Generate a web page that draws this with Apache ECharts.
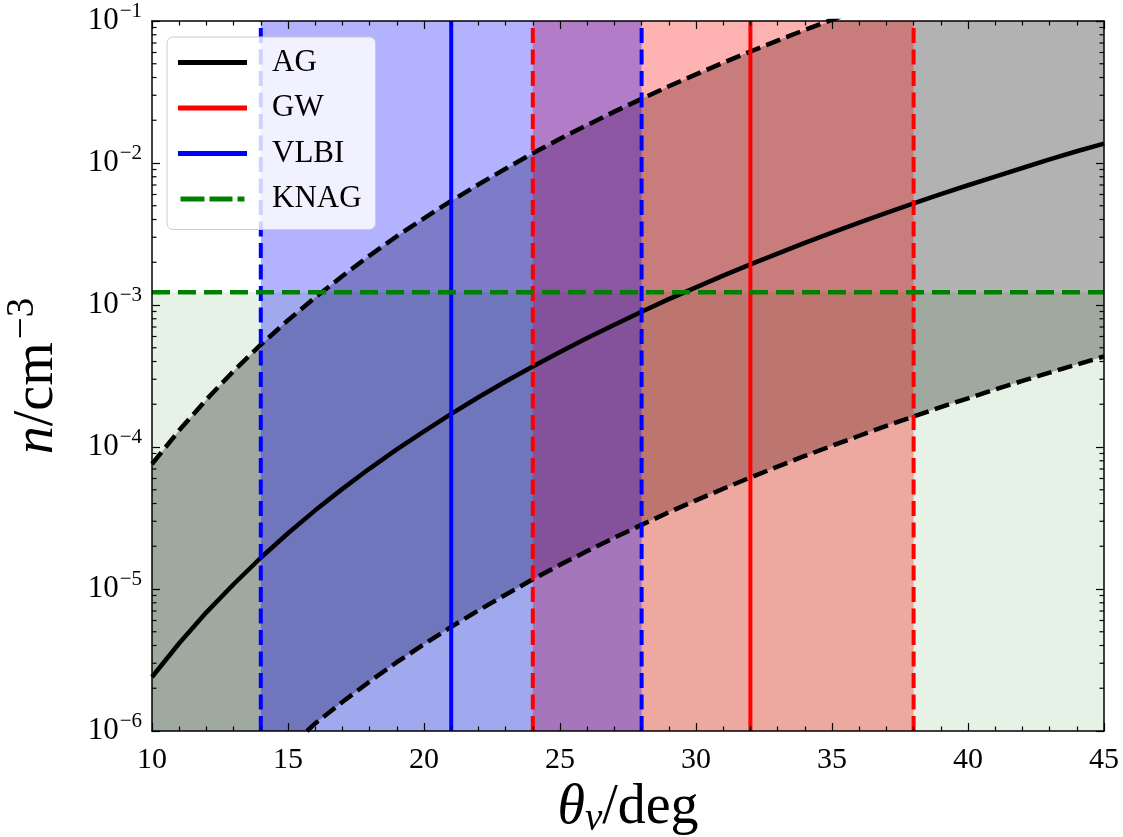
<!DOCTYPE html>
<html><head><meta charset="utf-8">
<script src="https://cdn.jsdelivr.net/npm/echarts@6/dist/echarts.min.js"></script>
<style>html,body{margin:0;padding:0;background:#fff}#c{width:1123px;height:837px}</style>
</head><body><div id="c"></div>
<script>
// ---- data (one reading per degree) ----
const thetaMid = [10, 11, 12, 13, 14, 15, 16, 17, 18, 19, 20, 21, 22, 23, 24, 25, 26, 27, 28, 29, 30, 31, 32, 33, 34, 35, 36, 37, 38, 39, 40, 41, 42, 43, 44, 45];
const nMid     = [2.40e-6, 4.15e-6, 6.85e-6, 1.08e-5, 1.66e-5, 2.47e-5, 3.58e-5, 5.07e-5, 7.05e-5, 9.63e-5, 1.29e-4, 1.71e-4, 2.24e-4, 2.89e-4, 3.69e-4, 4.67e-4, 5.85e-4, 7.27e-4, 8.96e-4, 1.10e-3, 1.33e-3, 1.61e-3, 1.93e-3, 2.30e-3, 2.74e-3, 3.23e-3, 3.80e-3, 4.45e-3, 5.19e-3, 6.03e-3, 6.97e-3, 8.03e-3, 9.22e-3, 1.06e-2, 1.21e-2, 1.37e-2];
const thetaUp  = [10, 11, 12, 13, 14, 15, 16, 17, 18, 19, 20, 21, 22, 23, 24, 25, 26, 27, 28, 29, 30, 31, 32, 33, 34, 35, 36];
const nUp      = [7.59e-5, 1.31e-4, 2.16e-4, 3.43e-4, 5.25e-4, 7.82e-4, 1.13e-3, 1.60e-3, 2.23e-3, 3.05e-3, 4.08e-3, 5.41e-3, 7.06e-3, 9.12e-3, 1.17e-2, 1.48e-2, 1.85e-2, 2.30e-2, 2.83e-2, 3.47e-2, 4.21e-2, 5.08e-2, 6.10e-2, 7.28e-2, 8.65e-2, 1.02e-1, 1.20e-1];
const thetaLow = [15.7, 16, 17, 18, 19, 20, 21, 22, 23, 24, 25, 26, 27, 28, 29, 30, 31, 32, 33, 34, 35, 36, 37, 38, 39, 40, 41, 42, 43, 44, 45];
const nLow     = [1.00e-6, 1.13e-6, 1.60e-6, 2.23e-6, 3.05e-6, 4.08e-6, 5.41e-6, 7.06e-6, 9.12e-6, 1.17e-5, 1.48e-5, 1.85e-5, 2.30e-5, 2.83e-5, 3.47e-5, 4.21e-5, 5.08e-5, 6.10e-5, 7.28e-5, 8.65e-5, 1.02e-4, 1.20e-4, 1.41e-4, 1.64e-4, 1.91e-4, 2.20e-4, 2.54e-4, 2.92e-4, 3.34e-4, 3.81e-4, 4.34e-4];
const gwCenter = 32, gwRange = [24, 38];
const vlbiCenter = 21, vlbiRange = [14, 28];
const knagN = 1.23e-3;
const xMin = 10, xMax = 45, xStep = 5;
const yMin = 1e-6, yMax = 1e-1;
const legendNames = ['AG', 'GW', 'VLBI', 'KNAG'];
const xTitle = '{t|θ}{v|v}{d|/deg}';
const yTitle = '{n|n}{d|/cm}{s|−3}';

// minor tick positions for the log axis (2..9 x 10^k)
const yMinorTicks = [];
for (let e = -6; e < -1; e++) for (let m = 2; m <= 9; m++) yMinorTicks.push(Number((m * Math.pow(10, e)).toPrecision(3)));

const FONT = '"Liberation Serif", "DejaVu Serif", serif';

function rectRender(color) {
  return function (params, api) {
    const p0 = api.coord([api.value(0), api.value(1)]);
    const p1 = api.coord([api.value(2), api.value(3)]);
    return { type: 'rect', shape: { x: Math.min(p0[0], p1[0]), y: Math.min(p0[1], p1[1]), width: Math.abs(p1[0] - p0[0]), height: Math.abs(p1[1] - p0[1]) }, style: { fill: color } };
  };
}
function bandRender(params, api) {
  const pts = [];
  for (let i = 0; i < thetaUp.length; i++) pts.push(api.coord([thetaUp[i], nUp[i]]));
  pts.push(api.coord([xMax, yMax]));
  for (let i = thetaLow.length - 1; i >= 0; i--) pts.push(api.coord([thetaLow[i], nLow[i]]));
  pts.push(api.coord([xMin, yMin]));
  const cs = params.coordSys;
  return { type: 'polygon', shape: { points: echarts.graphic.clipPointsByRect(pts, { x: cs.x, y: cs.y, width: cs.width, height: cs.height }) }, style: { fill: 'rgba(0,0,0,0.3)' } };
}
function minorTickRender(params, api) {
  const v = api.value(1);
  const l = api.coord([xMin, v]);
  const r = api.coord([xMax, v]);
  const st = { stroke: '#000', lineWidth: 1.2 };
  return { type: 'group', children: [
    { type: 'line', shape: { x1: l[0], y1: l[1], x2: l[0] + 4.5, y2: l[1] }, style: st },
    { type: 'line', shape: { x1: r[0] - 4.5, y1: r[1], x2: r[0], y2: r[1] }, style: st }
  ] };
}
const zip = (a, b) => a.map((x, i) => [x, b[i]]);
const vline = (x) => [[x, yMin], [x, yMax]];

const axisCommon = {
  axisLine: { show: true, onZero: false, lineStyle: { color: '#000', width: 1.5 } },
  axisTick: { show: true, inside: true, length: 8, lineStyle: { color: '#000', width: 1.2 } },
  splitLine: { show: false },
  z: 50
};
const supRich = {
  b: { fontFamily: FONT, fontSize: 31, color: '#000' },
  s: { fontFamily: FONT, fontSize: 21, color: '#000', padding: [0, 0, 20, 1] }
};
const dashIcon = 'path://M0,0h24v5h-24z M29,0h23v5h-23z M57,0h7v5h-7z';

const option = {
  animation: false,
  backgroundColor: '#fff',
  grid: { left: 152, top: 21, width: 952, height: 710, containLabel: false, outerBoundsMode: 'none' },
  legend: {
    data: [
      { name: 'AG', icon: 'rect' },
      { name: 'GW', icon: 'rect' },
      { name: 'VLBI', icon: 'rect' },
      { name: 'KNAG', icon: dashIcon }
    ],
    orient: 'vertical', left: 167, top: 37,
    padding: [10, 14, 15, 11], itemGap: 14.5, itemWidth: 69, itemHeight: 5,
    backgroundColor: 'rgba(255,255,255,0.82)', borderColor: '#cccccc', borderWidth: 1, borderRadius: 6,
    textStyle: { fontFamily: FONT, fontSize: 31, color: '#000', lineHeight: 30, padding: [0, 0, 0, 20] },
    z: 100
  },
  xAxis: [
    Object.assign({}, axisCommon, {
      type: 'value', min: xMin, max: xMax, interval: xStep, position: 'bottom',
      minorTick: { show: true, splitNumber: 5, length: 4.5, lineStyle: { color: '#000', width: 1.2 } },
      axisLabel: { fontFamily: FONT, fontSize: 30, color: '#000', margin: 14 },
      name: xTitle, nameLocation: 'middle', nameGap: 40,
      nameTextStyle: { rich: {
        t: { fontFamily: FONT, fontStyle: 'italic', fontSize: 56, color: '#000' },
        v: { fontFamily: FONT, fontStyle: 'italic', fontSize: 39, color: '#000', padding: [24, 0, 0, 0] },
        d: { fontFamily: FONT, fontSize: 56, color: '#000' }
      } }
    }),
    Object.assign({}, axisCommon, {
      type: 'value', min: xMin, max: xMax, interval: xStep, position: 'top',
      minorTick: { show: true, splitNumber: 5, length: 4.5, lineStyle: { color: '#000', width: 1.2 } },
      axisLabel: { show: false }
    })
  ],
  yAxis: [
    Object.assign({}, axisCommon, {
      type: 'log', logBase: 10, min: yMin, max: yMax, position: 'left',
      axisLabel: { margin: 10, formatter: v => '{b|10}{s|−' + (-Math.round(Math.log10(v))) + '}', rich: supRich },
      name: yTitle, nameLocation: 'middle', nameRotate: 90, nameGap: 80,
      nameTextStyle: { rich: {
        n: { fontFamily: FONT, fontStyle: 'italic', fontSize: 56, color: '#000' },
        d: { fontFamily: FONT, fontSize: 56, color: '#000' },
        s: { fontFamily: FONT, fontSize: 39, color: '#000', padding: [0, 0, 30, 3] }
      } }
    }),
    Object.assign({}, axisCommon, {
      type: 'log', logBase: 10, min: yMin, max: yMax, position: 'right',
      axisLabel: { show: false }
    })
  ],
  series: [
    { name: 'KNAG region', type: 'custom', z: 1, renderItem: rectRender('rgba(0,128,0,0.1)'),
      encode: { x: [0, 2], y: [1, 3] }, data: [[xMin, yMin, xMax, knagN]] },
    { name: 'AG band', type: 'custom', z: 2, renderItem: bandRender, data: [[thetaMid[0], nMid[0]]] },
    { name: 'GW band', type: 'custom', z: 3, renderItem: rectRender('rgba(255,0,0,0.3)'),
      encode: { x: [0, 2], y: [1, 3] }, data: [[gwRange[0], yMin, gwRange[1], yMax]] },
    { name: 'VLBI band', type: 'custom', z: 4, renderItem: rectRender('rgba(0,0,255,0.3)'),
      encode: { x: [0, 2], y: [1, 3] }, data: [[vlbiRange[0], yMin, vlbiRange[1], yMax]] },

    { name: 'AG', type: 'line', z: 10, symbol: 'none', clip: true, data: zip(thetaMid, nMid),
      lineStyle: { color: '#000', width: 4.5 }, itemStyle: { color: '#000' } },
    { name: 'AG upper', type: 'line', z: 10, symbol: 'none', clip: true, data: zip(thetaUp, nUp),
      lineStyle: { color: '#000', width: 4.5, type: [15, 6.5] } },
    { name: 'AG lower', type: 'line', z: 10, symbol: 'none', clip: true, data: zip(thetaLow, nLow),
      lineStyle: { color: '#000', width: 4.5, type: [15, 6.5] } },

    { name: 'GW', type: 'line', z: 11, symbol: 'none', data: vline(gwCenter),
      lineStyle: { color: '#ff0000', width: 4 }, itemStyle: { color: '#ff0000' } },
    { name: 'GW lo', type: 'line', z: 11, symbol: 'none', data: vline(gwRange[0]),
      lineStyle: { color: '#ff0000', width: 4, type: [15, 6.5] } },
    { name: 'GW hi', type: 'line', z: 11, symbol: 'none', data: vline(gwRange[1]),
      lineStyle: { color: '#ff0000', width: 4, type: [15, 6.5] } },
    { name: 'VLBI', type: 'line', z: 11, symbol: 'none', data: vline(vlbiCenter),
      lineStyle: { color: '#0000ff', width: 4 }, itemStyle: { color: '#0000ff' } },
    { name: 'VLBI lo', type: 'line', z: 11, symbol: 'none', data: vline(vlbiRange[0]),
      lineStyle: { color: '#0000ff', width: 4, type: [15, 6.5] } },
    { name: 'VLBI hi', type: 'line', z: 11, symbol: 'none', data: vline(vlbiRange[1]),
      lineStyle: { color: '#0000ff', width: 4, type: [15, 6.5] } },

    { name: 'KNAG', type: 'line', z: 12, symbol: 'none', data: [[xMin, knagN], [xMax, knagN]],
      lineStyle: { color: '#008000', width: 4.5, type: [18, 8] }, itemStyle: { color: '#008000' } },

    { name: 'minor ticks', type: 'custom', z: 60, renderItem: minorTickRender, data: yMinorTicks.map(v => [xMin, v]) }
  ]
};
const chart = echarts.init(document.getElementById('c'), null, { renderer: 'canvas' });
chart.setOption(option);
</script>
</body></html>
